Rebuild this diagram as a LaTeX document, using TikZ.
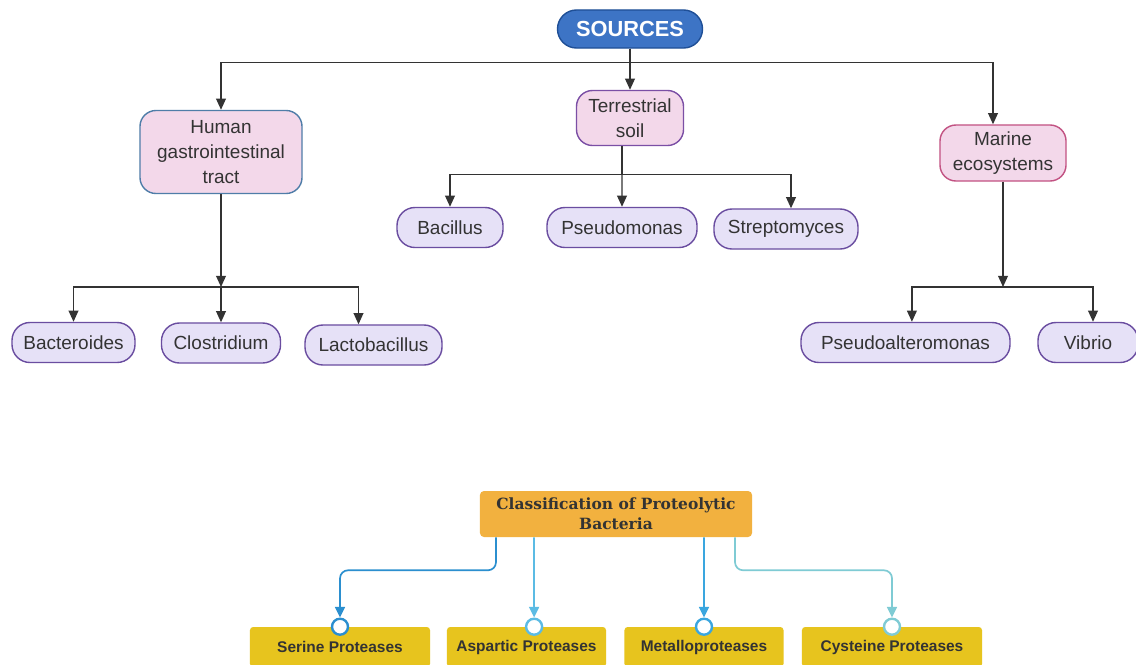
\documentclass[tikz,border=0pt]{standalone}
\usepackage{fontspec}
\setmainfont{Liberation Sans}
\newfontfamily\slabfont{DejaVu Serif}
\usepackage{tikz}
\usetikzlibrary{arrows.meta}

\definecolor{linegray}{HTML}{333333}
\definecolor{textgray}{HTML}{333333}
\definecolor{srcfill}{HTML}{3D74C5}
\definecolor{srcline}{HTML}{1F4F96}
\definecolor{pinkfill}{HTML}{F3D8EA}
\definecolor{humline}{HTML}{4F7DA8}
\definecolor{terrline}{HTML}{7B4FA5}
\definecolor{marline}{HTML}{C25282}
\definecolor{leaffill}{HTML}{E6E1F7}
\definecolor{leafline}{HTML}{6A4DA0}
\definecolor{orangefill}{HTML}{F2B13F}
\definecolor{yellowfill}{HTML}{E7C41E}
\definecolor{serblue}{HTML}{2B8FCF}
\definecolor{aspblue}{HTML}{5BBBE4}
\definecolor{metblue}{HTML}{3AA6DF}
\definecolor{cysteal}{HTML}{7FCBD4}

\tikzset{
  srcbox/.style={rectangle,rounded corners=0.475cm,draw=srcline,line width=1pt,fill=srcfill,
    minimum width=3.625cm,minimum height=0.95cm,inner sep=0pt,text=white,
    font=\fontsize{15.5}{18}\selectfont\bfseries},
  midbox/.style={rectangle,rounded corners=0.4cm,line width=1pt,fill=pinkfill,inner sep=0pt,
    align=center,text=textgray,font=\fontsize{13.5}{17.5}\selectfont},
  leaf/.style={rectangle,rounded corners=0.45cm,draw=leafline,line width=1pt,fill=leaffill,
    minimum height=1cm,inner sep=0pt,text=textgray,font=\fontsize{13.5}{16}\selectfont},
  arr/.style={draw=linegray,line width=1pt,-{Triangle[length=8pt,width=7pt]}},
  classbox/.style={rectangle,rounded corners=0.1cm,fill=orangefill,minimum width=6.8cm,
    minimum height=1.15cm,inner sep=0pt,align=center,text=textgray,
    font=\slabfont\bfseries\fontsize{11}{14.5}\selectfont},
  protbox/.style={rectangle,rounded corners=0.08cm,fill=yellowfill,minimum height=1cm,
    inner sep=0pt,text=textgray,font=\fontsize{11}{13}\selectfont\bfseries},
  dot/.style={circle,fill=white,line width=1.7pt,minimum size=0.4cm,inner sep=0pt},
  parr/.style={line width=1.2pt,rounded corners=0.2cm,-{Triangle[length=7.5pt,width=7pt]}}
}

\begin{document}
\begin{tikzpicture}[x=0.025cm,y=-0.025cm]
\clip (0,0) rectangle (1136,664);
\fill[white] (0,0) rectangle (1136,664);

% sources and habitats
\node at (630,29) [srcbox] (Sources) {SOURCES};
\node at (221,152) [midbox,draw=humline,minimum width=4.05cm,minimum height=2.075cm] (Human) {Human\\gastrointestinal\\tract};
\node at (630,118) [midbox,draw=terrline,minimum width=2.675cm,minimum height=1.375cm] (Terr) {Terrestrial\\soil};
\node at (1003,153) [midbox,draw=marline,minimum width=3.15cm,minimum height=1.4cm] (Marine) {Marine\\ecosystems};

% genera
\node at (73.5,342.5) [leaf,minimum width=3.075cm] (Bact) {Bacteroides};
\node at (221,343) [leaf,minimum width=2.975cm] (Clos) {Clostridium};
\node at (373.5,345) [leaf,minimum width=3.425cm] (Lact) {Lactobacillus};
\node at (450,227.5) [leaf,minimum width=2.65cm] (Baci) {Bacillus};
\node at (622,227.5) [leaf,minimum width=3.75cm] (Pseu) {Pseudomonas};
\node at (786,229) [leaf,minimum width=3.6cm] (Strep) {Streptomyces};
\node at (905.5,342.5) [leaf,minimum width=5.225cm] (Palt) {Pseudoalteromonas};
\node at (1088,342.5) [leaf,minimum width=2.5cm] (Vibr) {Vibrio};

\coordinate (LowY) at (0,287);
\coordinate (HumJ) at (Human.south |- LowY);
\coordinate (MarJ) at (Marine.south |- LowY);

\draw[arr] (Sources) -- (Terr);
\draw[arr] (Sources.south) -- ++(0,14) -| (Human.north);
\draw[arr] (Sources.south) -- ++(0,14) -| ([xshift=-0.25cm]Marine.north);

\draw[arr] ([xshift=-0.2cm]Terr.south) -- (Pseu.north);
\draw[arr] ([xshift=-0.2cm]Terr.south) -- ++(0,28) -| (Baci.north);
\draw[arr] ([xshift=-0.2cm]Terr.south) -- ++(0,28) -| ([xshift=0.125cm]Strep.north);

\draw[arr] (Human) -- (HumJ);
\draw[arr] (HumJ) -| (Bact.north);
\draw[arr] (HumJ) -- (Clos.north);
\draw[arr] (HumJ) -| ([xshift=-0.375cm]Lact.north);

\draw[arr] (Marine) -- (MarJ);
\draw[arr] (MarJ) -| ([xshift=0.16cm]Palt.north);
\draw[arr] (MarJ) -| ([xshift=0.125cm]Vibr.north);

% classification
\node at (616,514) [classbox] (Class) {Classification of Proteolytic\\Bacteria};
\node at (340,647) [protbox,minimum width=4.5cm] (Ser) {Serine Proteases};
\node at (526.5,647) [protbox,minimum width=3.975cm] (Asp) {Aspartic Proteases};
\node at (704,647) [protbox,minimum width=3.975cm] (Met) {Metalloproteases};
\node at (892,647) [protbox,minimum width=4.5cm] (Cys) {Cysteine Proteases};

\node at (Ser.north) [dot,draw=serblue] (SerDot) {};
\node at ([xshift=0.19cm]Asp.north) [dot,draw=aspblue] (AspDot) {};
\node at (Met.north) [dot,draw=metblue] (MetDot) {};
\node at (Cys.north) [dot,draw=cysteal] (CysDot) {};

\draw[parr,draw=serblue] ([xshift=-3cm]Class.south) -- ++(0,33) -| (SerDot.north);
\draw[parr,draw=aspblue] ([xshift=-2.05cm]Class.south) -- (AspDot.north);
\draw[parr,draw=metblue] ([xshift=2.2cm]Class.south) -- (MetDot.north);
\draw[parr,draw=cysteal] ([xshift=2.975cm]Class.south) -- ++(0,33) -| (CysDot.north);
\end{tikzpicture}
\end{document}
